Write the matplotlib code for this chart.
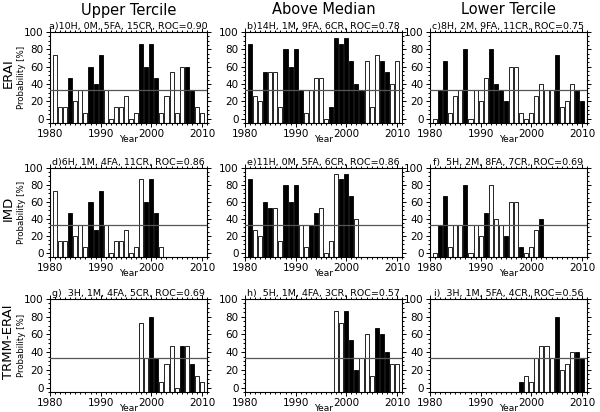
import matplotlib.pyplot as plt
from matplotlib.ticker import MultipleLocator

# years for each data source
years_erai = list(range(1981, 2011))
years_imd = list(range(1981, 2003))
years_trmm = list(range(1998, 2011))

col_titles = ["Upper Tercile", "Above Median", "Lower Tercile"]
row_titles = ["ERAI", "IMD", "TRMM-ERAI"]

panel_titles = [
    ["a)10H, 0M, 5FA, 15CR, ROC=0.90", "b)14H, 1M, 9FA, 6CR, ROC=0.78", "c)8H, 2M, 9FA, 11CR, ROC=0.75"],
    ["d)6H, 1M, 4FA, 11CR, ROC=0.86", "e)11H, 0M, 5FA, 6CR, ROC=0.86", "f)  5H, 2M, 8FA, 7CR, ROC=0.69"],
    ["g)  3H, 1M, 4FA, 5CR, ROC=0.69", "h)  5H, 1M, 4FA, 3CR, ROC=0.57", "i)  3H, 1M, 5FA, 4CR, ROC=0.56"],
]

# forecast probabilities [%] (in fifteenths)
prob_a = [73.3, 13.3, 13.3, 46.7, 20, 33.3, 6.7, 60, 40, 73.3, 33.3, 0, 13.3, 13.3, 26.7,
          0, 6.7, 86.7, 60, 86.7, 46.7, 6.7, 26.7, 53.3, 6.7, 60, 60, 33.3, 13.3, 6.7]
prob_b = [86.7, 26.7, 20, 53.3, 53.3, 53.3, 13.3, 80, 60, 80, 33.3, 6.7, 33.3, 46.7, 46.7,
          0, 13.3, 93.3, 86.7, 93.3, 66.7, 40, 33.3, 66.7, 13.3, 73.3, 66.7, 53.3, 40, 66.7]
prob_c = [0, 33.3, 66.7, 6.7, 26.7, 33.3, 80, 0, 33.3, 20, 46.7, 80, 40, 33.3, 20,
          60, 60, 6.7, 0, 6.7, 26.7, 40, 33.3, 33.3, 73.3, 13.3, 20, 40, 33.3, 20]
prob_d = [73.3, 13.3, 13.3, 46.7, 20, 33.3, 6.7, 60, 26.7, 73.3, 33.3, 0, 13.3, 13.3, 26.7,
          0, 6.7, 86.7, 60, 86.7, 46.7, 6.7]
prob_e = [86.7, 26.7, 20, 60, 53.3, 53.3, 13.3, 80, 60, 80, 33.3, 6.7, 33.3, 46.7, 53.3,
          0, 13.3, 93.3, 86.7, 93.3, 66.7, 40]
prob_f = [0, 33.3, 66.7, 6.7, 33.3, 33.3, 80, 0, 33.3, 20, 46.7, 80, 40, 33.3, 20,
          60, 60, 6.7, 0, 6.7, 26.7, 40]
prob_g = [73.3, 33.3, 80, 33.3, 6.7, 26.7, 46.7, 0, 46.7, 46.7, 26.7, 13.3, 6.7]
prob_h = [86.7, 73.3, 86.7, 53.3, 20, 33.3, 60, 13.3, 66.7, 60, 40, 26.7, 26.7]
prob_i = [6.7, 13.3, 6.7, 33.3, 46.7, 46.7, 33.3, 80, 20, 26.7, 40, 40, 33.3]

# observed event (1 = black bar)
obs_a = [0, 0, 0, 1, 0, 0, 0, 1, 1, 1, 0, 0, 0, 0, 0, 0, 0, 1, 1, 1, 1, 0, 0, 0, 0, 0, 1, 1, 0, 0]
obs_b = [1, 0, 0, 1, 0, 0, 0, 1, 1, 1, 1, 0, 0, 0, 0, 0, 1, 1, 1, 1, 1, 1, 1, 0, 0, 0, 1, 1, 0, 0]
obs_c = [0, 1, 1, 0, 0, 0, 1, 0, 0, 0, 0, 1, 1, 1, 1, 0, 0, 0, 0, 0, 0, 0, 0, 0, 1, 0, 0, 0, 1, 1]
obs_d = [0, 0, 0, 1, 0, 0, 0, 1, 1, 1, 0, 0, 0, 0, 0, 0, 0, 0, 1, 1, 1, 0]
obs_e = [1, 0, 0, 1, 1, 0, 0, 1, 1, 1, 0, 0, 1, 1, 0, 0, 0, 0, 1, 1, 1, 0]
obs_f = [0, 1, 1, 0, 0, 0, 1, 0, 0, 0, 1, 0, 0, 0, 1, 0, 0, 1, 0, 0, 0, 1]
obs_g = [0, 0, 1, 1, 0, 0, 0, 0, 1, 0, 1, 0, 0]
obs_h = [0, 0, 1, 1, 1, 0, 0, 0, 1, 1, 1, 0, 0]
obs_i = [1, 0, 0, 0, 0, 0, 0, 1, 0, 0, 0, 1, 1]

panels = [
    [(years_erai, prob_a, obs_a), (years_erai, prob_b, obs_b), (years_erai, prob_c, obs_c)],
    [(years_imd, prob_d, obs_d), (years_imd, prob_e, obs_e), (years_imd, prob_f, obs_f)],
    [(years_trmm, prob_g, obs_g), (years_trmm, prob_h, obs_h), (years_trmm, prob_i, obs_i)],
]

ymin = -5
fig = plt.figure(figsize=(6.0, 4.12), dpi=100)
W, H = 600.0, 412.0
lefts = [50, 245, 430]
width = 157
rows = [(32, 123), (168, 257), (299, 392)]

for r in range(3):
    top, bot = rows[r]
    for c in range(3):
        ax = fig.add_axes([lefts[c] / W, 1 - bot / H, width / W, (bot - top) / H])
        yrs, prob, obs = panels[r][c]
        colors = ["black" if o else "white" for o in obs]
        ax.bar(yrs, [p - ymin for p in prob], bottom=ymin, width=0.8,
               color=colors, edgecolor="black", linewidth=0.6, zorder=2)
        ax.axhline(100 / 3, color="#555555", lw=0.9, zorder=3)
        ax.set_xlim(1980, 2011)
        ax.set_ylim(ymin, 100)
        ax.set_xticks([1980, 1990, 2000, 2010])
        ax.set_yticks(range(0, 101, 20))
        ax.xaxis.set_minor_locator(MultipleLocator(1))
        ax.yaxis.set_minor_locator(MultipleLocator(5))
        ax.tick_params(which="both", top=True, right=True, labelsize=7.5,
                       pad=1.5, length=3, width=0.7)
        ax.tick_params(which="minor", length=1.5)
        for s in ax.spines.values():
            s.set_linewidth(0.8)
        ax.set_title(panel_titles[r][c], fontsize=6.8, loc="center", pad=2)
        ax.set_xlabel("Year", fontsize=6.5, labelpad=-3)
        if c == 0:
            ax.set_ylabel("Probability [%]", fontsize=6.2)
            ax.yaxis.set_label_coords((26 - lefts[0]) / width, 0.5)
        if r == 0:
            fig.text((lefts[c] + width / 2) / W, 1 - 10 / H, col_titles[c],
                     fontsize=10.5, ha="center", va="center")
    fig.text(8.5 / W, 1 - ((top + bot) / 2 - 4) / H, row_titles[r], fontsize=9.5,
             rotation=90, ha="center", va="center")

fig.savefig("out.png", dpi=100)
